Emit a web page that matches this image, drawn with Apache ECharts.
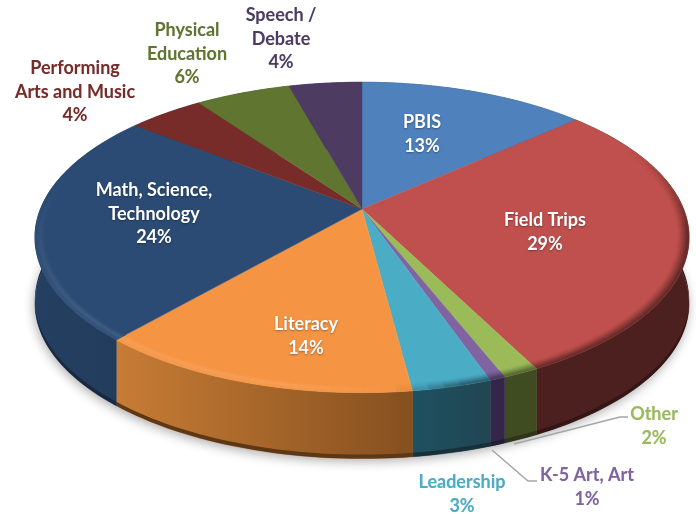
<!DOCTYPE html>
<html><head><meta charset="utf-8">
<style>html,body{margin:0;padding:0;background:#fff}#c{width:696px;height:514px}</style>
<script src="https://cdn.jsdelivr.net/npm/echarts@6/dist/echarts.min.js"></script>
</head><body><div id="c"></div>
<script>
// ---- data ----
const categories = ['PBIS','Field Trips','Other','K-5 Art, Art','Leadership','Literacy','Math, Science,\nTechnology','Performing\nArts and Music','Physical\nEducation','Speech /\nDebate'];
const shares = [13.4,29.1,1.5,0.65,3.3,13.5,24.2,4.45,5.6,4.3];

// ---- styles ----
const topColors  = ['#4f81bd','#c0504d','#9bbb59','#8064a2','#4bacc6','#f59443','#2b4b74','#772c2a','#5f7530','#4d3b62'];
const wallLeft   = ['#2f4d71','#4c201f','#3f4b21','#33264a','#1f5160','#c87c35','#243f61','#4c201f','#3f4b21','#33264a'];
const wallRight  = ['#2f4d71','#4c201f','#3f4b21','#33264a','#214553','#85501f','#233c5c','#4c201f','#3f4b21','#33264a'];
const labelColors= ['#fff','#fff','#9bbb59','#8064a2','#4bacc6','#fff','#fff','#772c2a','#5f7530','#4d3b62'];
const labelCenters = [[422,134],[545,232],[654,426],[587,487],[462,494],[306,336],[154,214],[75,92],[187,54],[281,39]];
const leaderLines = [null,null,[[514,444],[620,417],[628,417]],[[492,450],[528,481],[537,481]],null,null,null,null,null,null];

// ---- projection of the tilted disc ----
const cx=362, cy=209, Rx=321.5, Ry=150, k=0.183, wallH=66;
function P(r,deg,dz){
  const t=deg*Math.PI/180, u=r*Math.sin(t), v=-r*Math.cos(t), w=1-k*v;
  return [cx+Rx*u/w, cy+Ry*v/w+(dz||0)];
}
function arc(r,a,b,dz){
  const n=Math.max(2,Math.ceil(Math.abs(b-a)/1.5)), pts=[];
  for(let i=0;i<=n;i++) pts.push(P(r,a+(b-a)*i/n,dz));
  return pts;
}
const total=shares.reduce((s,x)=>s+x,0);
function range(i){
  let c=0; for(let j=0;j<i;j++) c+=shares[j];
  return [c/total*360,(c+shares[i])/total*360];
}
function hex(c){return [1,3,5].map(i=>parseInt(c.substr(i,2),16));}
function mix(c,t,a){const x=hex(c),y=hex(t);return 'rgb('+x.map((q,i)=>Math.round(q+(y[i]-q)*a)).join(',')+')';}
const lightStops=[[0,0],[65,0],[100,-1],[165,-.9],[175,0],[190,.8],[235,.7],[262,.3],[285,0],[360,0]];
function light(d){
  for(let i=1;i<lightStops.length;i++){
    const p=lightStops[i-1],q=lightStops[i];
    if(d<=q[0]) return p[1]+(q[1]-p[1])*(d-p[0])/(q[0]-p[0]);
  }
  return 0;
}
const ringEdges=[0.968,0.974,0.98,0.986,0.992,1];
const ringLight=[0.12,0.45,0.85,0.7,0.4];
const ringDark =[0.1,0.25,0.45,0.65,0.85];

const seriesData=categories.map((n,i)=>({name:n,value:shares[i]}));

function renderBase(p){
  if(p.dataIndex!==0) return {type:'group',children:[]};
  return {type:'polygon',shape:{points:arc(1,0,360,wallH)},
    style:{fill:'#fff',shadowBlur:11,shadowOffsetY:3,shadowOffsetX:-1,shadowColor:'rgba(0,0,0,0.32)'}};
}
function renderWall(p){
  const i=p.dataIndex,[a,b]=range(i);
  const pts=arc(1,a,b,0).concat(arc(1,b,a,wallH));
  const g={type:'linear',x:0,y:0,x2:1,y2:0,colorStops:[{offset:0,color:wallLeft[i]},{offset:1,color:wallRight[i]}]};
  const rim=arc(1,a,b,wallH-4).concat(arc(1,b,a,wallH));
  return {type:'group',children:[
    {type:'polygon',shape:{points:pts},style:{fill:g,stroke:g,lineWidth:0.5}},
    {type:'polygon',shape:{points:rim},style:{fill:mix(wallRight[i],'#000000',0.3)}}
  ]};
}
function renderTop(p){
  const i=p.dataIndex,[a,b]=range(i),c=topColors[i];
  const kids=[{type:'polygon',shape:{points:[[cx,cy]].concat(arc(1,a,b,0))},style:{fill:c,stroke:c,lineWidth:0.4}}];
  const step=2.5,n=Math.max(1,Math.ceil((b-a)/step));
  for(let s=0;s<n;s++){
    const d0=a+(b-a)*s/n,d1=a+(b-a)*(s+1)/n,l=light((d0+d1)/2);
    if(Math.abs(l)<0.01) continue;
    for(let q=0;q<ringLight.length;q++){
      const col=l>0?mix(c,'#ffffff',0.16*l*ringLight[q]):mix(c,'#000000',0.55*(-l)*ringDark[q]);
      const pts=arc(ringEdges[q],d0,d1,0).concat(arc(ringEdges[q+1],d1,d0,0));
      kids.push({type:'polygon',shape:{points:pts},style:{fill:col,stroke:col,lineWidth:0.5}});
    }
  }
  return {type:'group',children:kids};
}
function renderLabel(p){
  const i=p.dataIndex,kids=[];
  if(leaderLines[i]) kids.push({type:'polyline',shape:{points:leaderLines[i]},style:{fill:null,stroke:'#a6a6a6',lineWidth:1.5}});
  const white=labelColors[i]==='#fff';
  kids.push({type:'text',x:labelCenters[i][0],y:labelCenters[i][1],style:{
    text:categories[i]+'\n'+Math.round(shares[i])+'%',
    fill:labelColors[i],font:'700 18px Lato',lineHeight:23.6,align:'center',verticalAlign:'middle',
    textShadowBlur:white?2:1,textShadowColor:white?'rgba(0,0,0,0.35)':'rgba(0,0,0,0.12)',textShadowOffsetY:white?1:0}});
  return {type:'group',children:kids};
}
const mk=(fn,z)=>({type:'custom',coordinateSystem:'none',renderItem:fn,data:seriesData,z,silent:true,animation:false,clip:false});
const chart=echarts.init(document.getElementById('c'),null,{renderer:'canvas'});
chart.setOption({animation:false,backgroundColor:'#fff',series:[mk(renderBase,1),mk(renderWall,2),mk(renderTop,3),mk(renderLabel,4)]});
</script></body></html>
